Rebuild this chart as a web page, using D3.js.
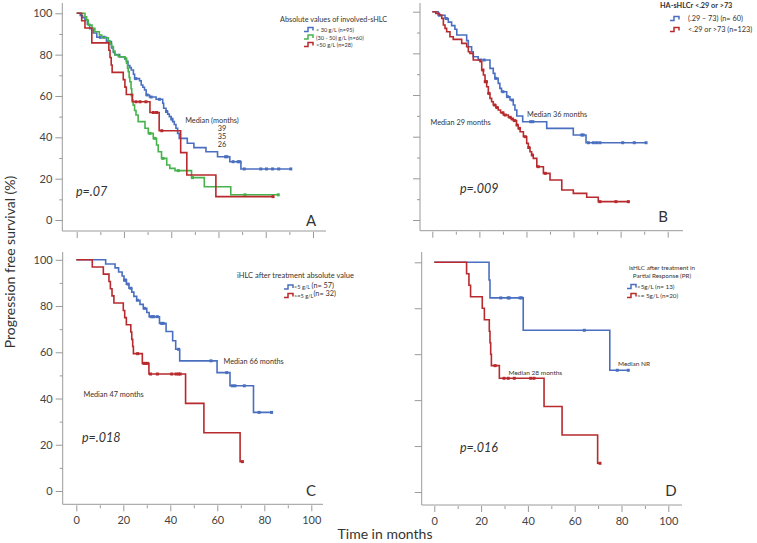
<!DOCTYPE html>
<html><head><meta charset="utf-8">
<script src="https://cdn.jsdelivr.net/npm/d3@7/dist/d3.min.js"></script>
<style>body{margin:0;background:#fff}text{font-family:Lato,"Open Sans",sans-serif;fill:#333}</style>
</head><body><svg id="c" width="757" height="543"></svg>
<script>
// ---------- DATA (time in months, survival %) ----------
const xTicks = [0, 20, 40, 60, 80, 100];
const yTicks = [0, 20, 40, 60, 80, 100];

// Panel A
const aBlue = [[0,100],[1.5,98.9],[2.5,97.9],[3.5,96.8],[4.5,94.7],[5.5,92.6],[7,90.5],[8.5,88.4],[12.6,86.3],[14.7,83.2],[15.5,81.1],[16.1,80],[18.2,78.9],[20.3,77.9],[21,76.8],[21.7,74.7],[22.5,73.7],[23.1,72.6],[24,70.5],[24.5,68.4],[26.6,67.4],[27.3,65.3],[28,64.2],[28.7,62.9],[29.4,60.5],[30.8,59.5],[33.6,58.4],[36.4,56.5],[36.8,54.1],[37.8,52.5],[38.5,51.2],[39.2,50],[40,48.8],[40.6,47.6],[41.3,46.2],[42,44.4],[42.7,41.9],[43.4,39.5],[46.8,37.1],[49.6,35],[54.7,33],[59.6,30.6],[64.8,28.2],[69.5,24.7],[90.9,24.7]];
const aBlueCens = [10,11.5,13.5,25,29.8,31.5,35,38,40.3,63,63.6,66.2,68.3,69,70.9,77.9,80.3,82.9,85.5,90.6];
const aGreen = [[0,100],[3.5,98.3],[4.2,96.7],[4.9,94.3],[6.5,92.7],[7.7,91.1],[9.6,89.5],[10.6,88.2],[13.4,86.6],[14.1,85],[14.8,83.9],[15.5,81.7],[16.2,79.8],[17.6,79],[20.4,78.3],[21.1,75.8],[21.5,73.5],[21.8,71.8],[22.2,69],[22.5,66.9],[23,63.5],[23.3,60.5],[23.6,58],[23.9,55.6],[24.5,53],[25.1,50.8],[26,47.6],[28.9,44.4],[30.3,41.9],[32.4,39.5],[33.8,36.3],[34.5,33],[35.9,29.8],[38.1,26.6],[39.4,25],[41.6,23.9],[48.6,20.5],[54,16.1],[65.2,12.2],[85.3,12.2]];
const aGreenCens = [23.4,31,33,36.5,43,49,71.2,85.3];
const aRed = [[0,100],[2.1,96.4],[3.5,92.9],[6.4,85.7],[13.6,82.1],[14.1,78.6],[14.6,75],[15,71.4],[19.7,67.9],[20.4,64.3],[21,60.7],[23.5,57.2],[31,52],[34.9,43.2],[44,32.6],[46.6,21.8],[58.9,11.3],[83.1,11.3]];
const aRedCens = [25.1,26.8,29.3,32.4,33.8,36,83.1];

// Panel B
const bBlue = [[0,100],[2.5,98.3],[5.4,96.7],[6.8,95],[8.2,93.3],[9.6,91.6],[10.4,88.8],[14.6,86.1],[15.3,83.2],[16.7,80.8],[17.4,78.4],[19.5,76.8],[24.5,72.8],[25.9,70.4],[26.6,68],[28,65.6],[28.7,63.2],[29.4,61.6],[31.6,59.2],[33,57.6],[34.4,55.2],[35.1,52.8],[35.9,49.9],[38.4,47.2],[48.6,44],[59.9,40.8],[65.3,37.1],[90.8,37.1]];
const bBlueCens = [3,6,20.5,22,27,30,32,34,41.8,42.7,63.5,64.1,66.3,68.4,69.8,71.2,80.9,85.8,90.8];
const bRed = [[0,100],[1.5,99.2],[3,98.4],[4,96.8],[4.7,93.6],[5.4,92],[6.1,90.4],[7.5,88],[8.9,86.7],[12.5,84.8],[14.6,83.2],[15.3,80.8],[16,80],[17.4,76.8],[20.3,76],[21,72],[21.7,69.6],[22.4,66.4],[23.1,64],[23.8,60.8],[24.5,58.4],[25.2,56.8],[25.9,55.2],[27,54],[28,52.8],[29,51.5],[30.2,50.4],[32.3,49.3],[33.5,48.5],[34.4,47.7],[35.8,45.6],[36.5,44],[37.3,42.4],[38.7,40],[40.1,36.8],[40.8,34.8],[41.5,32.8],[42.2,31.2],[42.9,29.6],[44.4,25.6],[47.2,22.4],[50,19.2],[55,14.4],[59.9,12.8],[65.6,10.9],[70.5,8.8],[83.3,8.8]];
const bRedCens = [21.5,22.5,23,24,26.5,27.5,30,31,33,34,35,36,37,39.5,41,42.5,45,48,71.2,78,83.3];

// Panel C
const cBlue = [[0,100],[12.5,98.2],[16.5,96.5],[18,94.7],[19.5,93],[20.3,91.2],[21.3,89.5],[22.4,87.7],[23.6,86],[24.5,84.2],[25.7,82.5],[27.1,80.7],[28.5,79],[30,77.2],[31,75.4],[35.4,72.5],[38.2,69],[41,65],[42.3,61.3],[44,56.3],[59.9,51.2],[65.4,45.5],[75.4,34],[83.1,34]];
const cBlueCens = [20.5,21,22,23.2,26,29,31.8,32.5,33,34.5,36.3,37,43.5,57.3,64,66.4,67.5,71.5,77.8,83.1];
const cRed = [[0,100],[6.8,96.9],[11.5,93.8],[13.9,90.6],[14.5,87.5],[15.2,84.4],[16,81.3],[20,78.1],[20.6,75],[21.3,71.9],[23.2,68.8],[23.6,65.6],[24,62.5],[24.3,59.4],[28.1,55.2],[30.9,50.6],[46.5,37.9],[54.3,25.2],[69.7,12.7],[70.7,12.7]];
const cRedCens = [26.1,28.8,29.5,30.3,31.6,34.5,40.6,42.4,43.5,44.2,70.7];

// Panel D
const dBlue = [[0,100],[23.4,92.3],[23.8,84.5],[38,70.4],[75,53],[82.9,53]];
const dBlueCens = [28.4,31.6,32,36.6,37.3,64.1,78.2,82.9];
const dRed = [[0,100],[13.8,95],[14.8,90],[15.5,85],[20.5,80],[21.4,75],[23.5,70],[23.8,65],[24.1,60],[24.4,55],[27.8,49.5],[46.9,37.2],[54.6,24.8],[69.8,12.5],[70.8,12.5]];
const dRedCens = [26,29.8,31.6,34.2,41.2,42.6,70.8];

// ---------- DRAWING ----------
const BLUE = "#4a6fc0", RED = "#b82a2d", GREEN = "#46b34c", AX = "#9a9a9a";
const svg = d3.select("#c");

function sAt(data, t) { let s = data[0][1]; for (const d of data) if (d[0] <= t) s = d[1]; return s; }

function panel(p, series) {
  const x = d3.scaleLinear().domain([0, 100]).range([p.x0, p.x100]);
  const y = d3.scaleLinear().domain([0, 100]).range([p.y0, p.y100]);
  const g = svg.append("g");
  g.append("line").attr("x1", p.ax).attr("x2", p.ax).attr("y1", p.top).attr("y2", p.ay).attr("stroke", AX);
  g.append("line").attr("x1", p.ax).attr("x2", p.right).attr("y1", p.ay).attr("y2", p.ay).attr("stroke", AX);
  const ya = d3.axisLeft(y).tickValues(yTicks).tickSize(7).tickPadding(3)
    .tickFormat(p.yLab ? d3.format("d") : "");
  const yg = g.append("g").attr("transform", `translate(${p.ax},0)`).call(ya);
  yg.select(".domain").remove();
  yg.selectAll("line").attr("stroke", AX);
  yg.selectAll("text").style("font-size", "11px").style("fill", "#444").style("font-family", "Lato, 'Open Sans', sans-serif");
  if (p.yMinor) {
    const ym = d3.axisLeft(y).tickValues(d3.range(10, 100, 20)).tickSize(3).tickFormat("");
    const ymg = g.append("g").attr("transform", `translate(${p.ax},0)`).call(ym);
    ymg.select(".domain").remove(); ymg.selectAll("line").attr("stroke", AX);
  }
  const xa = d3.axisBottom(x).tickValues(xTicks).tickSize(6).tickPadding(5)
    .tickFormat(p.xLab ? d3.format("d") : "");
  const xg = g.append("g").attr("transform", `translate(0,${p.ay + 1})`).call(xa);
  xg.select(".domain").remove();
  xg.selectAll("line").attr("stroke", AX);
  xg.selectAll("text").style("font-size", "11px").style("fill", "#444").style("font-family", "Lato, 'Open Sans', sans-serif");
  if (p.xMinor) {
    const xm = d3.axisBottom(x).tickValues(d3.range(10, 100, 20)).tickSize(3).tickFormat("");
    const xmg = g.append("g").attr("transform", `translate(0,${p.ay + 1})`).call(xm);
    xmg.select(".domain").remove(); xmg.selectAll("line").attr("stroke", AX);
  }
  const line = d3.line().x(d => x(d[0])).y(d => y(d[1])).curve(d3.curveStepAfter);
  for (const s of series) {
    g.append("path").datum(s.data).attr("d", line).attr("fill", "none")
      .attr("stroke", s.color).attr("stroke-width", 1.6);
    g.selectAll(null).data(s.cens).enter().append("rect")
      .attr("x", t => x(t) - 1.5).attr("y", t => y(sAt(s.data, t)) - 1.5)
      .attr("width", 3).attr("height", 3).attr("fill", s.color);
  }
}

panel({x0:76.7,x100:313,y0:220,y100:13.3,ax:62.3,ay:231,top:3,right:326,yLab:true,xLab:false,yMinor:true,xMinor:true},
  [{data:aBlue,cens:aBlueCens,color:BLUE},{data:aGreen,cens:aGreenCens,color:GREEN},{data:aRed,cens:aRedCens,color:RED}]);
panel({x0:432.3,x100:667.7,y0:220,y100:11.7,ax:420,ay:230.7,top:3,right:683,yLab:false,xLab:false,yMinor:true,xMinor:true},
  [{data:bBlue,cens:bBlueCens,color:BLUE},{data:bRed,cens:bRedCens,color:RED}]);
panel({x0:76.3,x100:311.3,y0:491,y100:259.8,ax:62.7,ay:504.3,top:252,right:323,yLab:true,xLab:true,yMinor:true,xMinor:true},
  [{data:cBlue,cens:cBlueCens,color:BLUE},{data:cRed,cens:cRedCens,color:RED}]);
panel({x0:434.3,x100:668.3,y0:492,y100:262.3,ax:421.7,ay:505,top:252,right:682,yLab:false,xLab:true,yMinor:false,xMinor:true},
  [{data:dBlue,cens:dBlueCens,color:BLUE},{data:dRed,cens:dRedCens,color:RED}]);

// ---------- TEXT ----------
function txt(x, y, s, size, opts = {}) {
  const t = svg.append("text").attr("x", x).attr("y", y).text(s).style("font-size", size + "px");
  if (opts.anchor) t.attr("text-anchor", opts.anchor);
  if (opts.italic) t.style("font-style", "italic");
  if (opts.weight) t.style("font-weight", opts.weight);
  if (opts.rot) t.attr("transform", `rotate(${opts.rot},${x},${y})`);
  return t;
}
function swatch(x, y, color) {
  svg.append("path").attr("d", `M${x},${y+2}H${x+4}V${y-2}H${x+9}V${y+1}`)
    .attr("fill", "none").attr("stroke", color).attr("stroke-width", 1.5);
}

// Panel A
txt(280, 22, "Absolute values of involved-sHLC", 7.3);
const aLeg = ["< 30 g/L (n=95)", "(30 - 50) g/L (n=60)", ">50 g/L (n=28)"];
[BLUE, GREEN, RED].forEach((c, i) => { swatch(304, 29.5 + i * 7.5, c); txt(316, 32 + i * 7.5, aLeg[i], 5.6); });
txt(212, 123, "Median (months)", 7.3, {anchor:"middle"});
["39", "35", "26"].forEach((s, i) => txt(222, 131 + i * 8, s, 7.3, {anchor:"middle"}));
txt(76, 196, "p=.07", 12.5, {italic:true});
txt(311, 226, "A", 15, {anchor:"middle"});

// Panel B
txt(660, 8, "HA-sHLCr <.29 or >73", 7.3, {weight:"bold"});
const bLeg = ["(.29 \u2013 73) (n= 60)", "<.29 or >73 (n=123)"];
[BLUE, RED].forEach((c, i) => { swatch(670, 18.5 + i * 11, c); txt(688, 21 + i * 11, bLeg[i], 7.3); });
txt(430.5, 124.5, "Median 29 months", 7.3);
txt(527, 117, "Median 36 months", 7.3);
txt(460, 193, "p=.009", 12.5, {italic:true});
txt(663, 222, "B", 15, {anchor:"middle"});

// Panel C
txt(237, 278, "iHLC after treatment absolute value", 7.5);
const cLeg = [["<5 g/L ", "(n= 57)"], [">=5 g/L", "(n= 32)"]];
[BLUE, RED].forEach((c, i) => {
  swatch(284, 287 + i * 8.5, c);
  const t = txt(294, 289 + i * 8.5, "", 5.6);
  t.append("tspan").text(cLeg[i][0]);
  t.append("tspan").text(cLeg[i][1]).style("font-size", "7.3px").attr("dy", -1.2);
});
txt(223.5, 363.5, "Median 66 months", 7.3);
txt(83.5, 397, "Median 47 months", 7.3);
txt(82, 442, "p=.018", 12.5, {italic:true});
txt(311, 496, "C", 15, {anchor:"middle"});

// Panel D
txt(662, 270, "isHLC after treatment in", 6.3, {anchor:"middle"});
txt(662, 278, "Partial Response (PR)", 6.3, {anchor:"middle"});
const dLeg = ["<5g/L (n= 13)", ">= 5g/L (n=20)"];
[BLUE, RED].forEach((c, i) => { swatch(627, 286.5 + i * 9, c); txt(637, 289 + i * 9, dLeg[i], 6.3); });
txt(618, 366, "Median NR", 6.5);
txt(508.5, 374.5, "Median 28 months", 6.5);
txt(460, 452, "p=.016", 12.5, {italic:true});
txt(671, 496, "D", 15, {anchor:"middle"});

// Global axis titles
txt(15, 262, "Progression free survival (%)", 14, {anchor:"middle", rot:-90});
txt(385, 539, "Time in months", 14, {anchor:"middle"});
</script></body></html>
